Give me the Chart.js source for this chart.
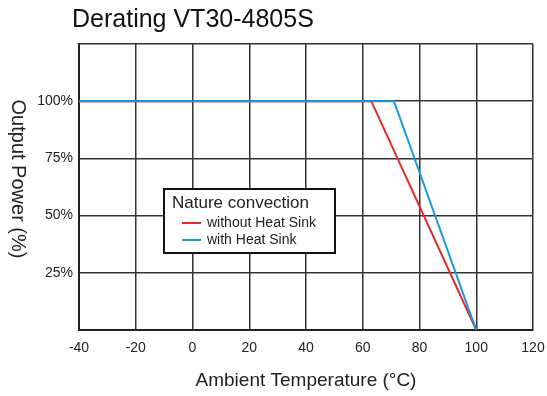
<!DOCTYPE html>
<html>
<head>
<meta charset="utf-8">
<script src="https://cdn.jsdelivr.net/npm/chart.js@4/dist/chart.umd.min.js"></script>
<style>
  html, body { margin: 0; padding: 0; background: #fff; }
  #wrap { width: 547px; height: 396px; }
</style>
</head>
<body>
<div id="wrap"><canvas id="derating"></canvas></div>
<script>
const chartTitle = 'Derating VT30-4805S';
const xTitle = 'Ambient Temperature (\u00B0C)';
const yTitle = 'Output Power (%)';
const legendTitle = 'Nature convection';

const xTicks = [-40, -20, 0, 20, 40, 60, 80, 100, 120];
const yTicks = [0, 25, 50, 75, 100, 125];
const yTickLabels = ['', '25%', '50%', '75%', '100%', ''];

// without heat sink
const tempNoSink = [-40, 63, 100];
const powerNoSink = [100, 100, 0];
// with heat sink
const tempSink = [-40, 71, 100];
const powerSink = [100, 100, 0];

const seriesNames = ['without Heat Sink', 'with Heat Sink'];
const seriesColors = ['#e8262b', '#1a98e2'];

const toPoints = (xs, ys) => xs.map((x, i) => ({ x: x, y: ys[i] }));

const FONT = '"Liberation Sans", Arial, sans-serif';

const extras = {
  id: 'extras',
  afterDraw(chart) {
    const ctx = chart.ctx;
    ctx.save();
    // title
    ctx.fillStyle = '#111';
    ctx.font = '25px ' + FONT;
    ctx.textAlign = 'left';
    ctx.textBaseline = 'middle';
    ctx.fillText(chartTitle, 72, 20);

    // y title, reads top to bottom
    ctx.save();
    ctx.translate(18, 179);
    ctx.rotate(Math.PI / 2);
    ctx.font = '20px ' + FONT;
    ctx.textAlign = 'center';
    ctx.fillStyle = '#222';
    ctx.fillText(yTitle, 0, 0);
    ctx.restore();

    // legend box
    const bx = 164, by = 189, bw = 171, bh = 64;
    ctx.fillStyle = '#fff';
    ctx.fillRect(bx, by, bw, bh);
    ctx.strokeStyle = '#111';
    ctx.lineWidth = 2;
    ctx.strokeRect(bx, by, bw, bh);
    ctx.fillStyle = '#222';
    ctx.font = '17px ' + FONT;
    ctx.textAlign = 'left';
    ctx.fillText(legendTitle, bx + 8, by + 14);
    ctx.font = '14px ' + FONT;
    seriesNames.forEach((name, i) => {
      const ly = by + 34 + i * 17;
      ctx.strokeStyle = seriesColors[i];
      ctx.lineWidth = 2;
      ctx.beginPath();
      ctx.moveTo(bx + 18, ly);
      ctx.lineTo(bx + 37, ly);
      ctx.stroke();
      ctx.fillStyle = '#222';
      ctx.fillText(name, bx + 43, ly);
    });
    ctx.restore();
  }
};

new Chart(document.getElementById('derating'), {
  type: 'line',
  data: {
    datasets: [
      {
        label: seriesNames[1],
        data: toPoints(tempSink, powerSink),
        borderColor: seriesColors[1],
        borderWidth: 2,
        pointRadius: 0,
        tension: 0
      },
      {
        label: seriesNames[0],
        data: toPoints(tempNoSink, powerNoSink),
        borderColor: seriesColors[0],
        borderWidth: 2,
        pointRadius: 0,
        tension: 0
      }
    ]
  },
  options: {
    responsive: true,
    maintainAspectRatio: false,
    animation: false,
    layout: { padding: { top: 44, right: 0, left: 0, bottom: 0 } },
    plugins: {
      legend: { display: false },
      tooltip: { enabled: false }
    },
    scales: {
      x: {
        type: 'linear',
        min: xTicks[0],
        max: xTicks[xTicks.length - 1],
        afterBuildTicks: (s) => { s.ticks = xTicks.map(v => ({ value: v })); },
        afterFit: (s) => { s.height = 66; s.paddingRight = 14; },
        border: { color: '#222', width: 2 },
        grid: { color: '#333', lineWidth: 1.5, drawTicks: false },
        ticks: { color: '#222', font: { family: FONT, size: 14 }, padding: 10, maxRotation: 0 },
        title: { display: true, text: xTitle, color: '#222', font: { family: FONT, size: 19 }, padding: { top: 10 } }
      },
      y: {
        min: yTicks[0],
        max: yTicks[yTicks.length - 1],
        afterBuildTicks: (s) => { s.ticks = yTicks.map(v => ({ value: v })); },
        afterFit: (s) => { s.width = 79; },
        border: { color: '#222', width: 2 },
        grid: { color: '#333', lineWidth: 1.5, drawTicks: false },
        ticks: {
          color: '#222',
          font: { family: FONT, size: 14 },
          padding: 6,
          callback: (v) => yTickLabels[yTicks.indexOf(v)]
        }
      }
    }
  },
  plugins: [extras]
});
</script>
</body>
</html>
